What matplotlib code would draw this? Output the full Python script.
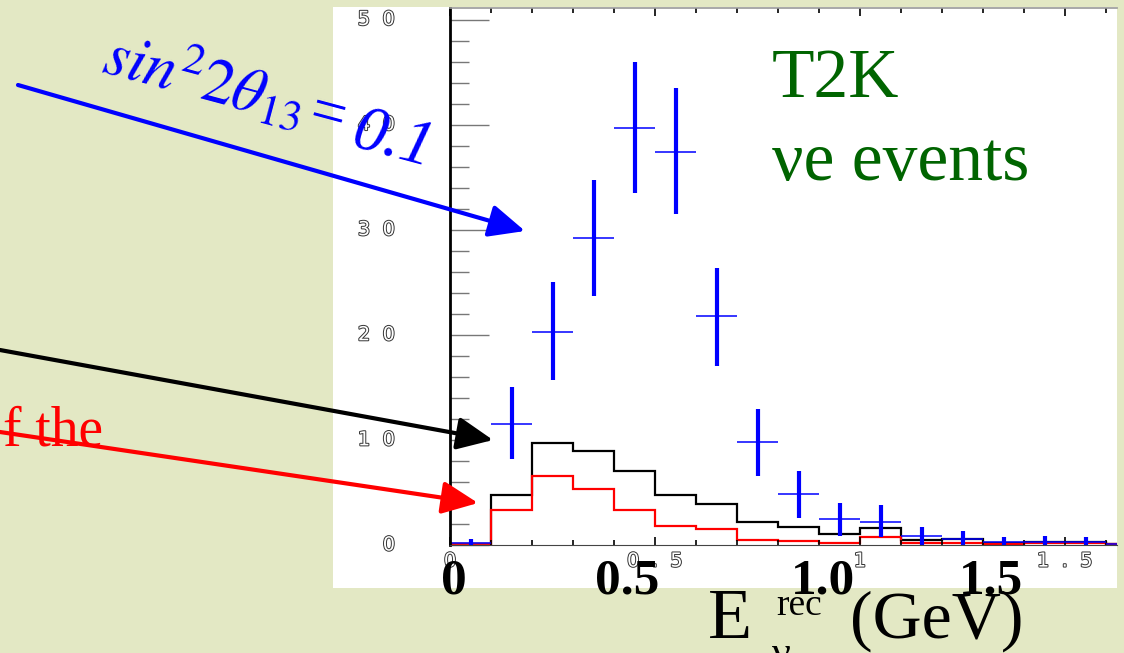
import matplotlib
matplotlib.use("Agg")
import matplotlib.pyplot as plt
import matplotlib.patheffects as pe
from matplotlib.patches import Rectangle, FancyArrowPatch
from matplotlib.ticker import MultipleLocator
import numpy as np

# reconstructed neutrino energy bins (GeV)
bin_edges = [0.0, 0.1, 0.2, 0.3, 0.4, 0.5, 0.6, 0.7, 0.8, 0.9, 1.0,
             1.1, 1.2, 1.3, 1.4, 1.5, 1.6, 1.7]
bin_centers = [0.05, 0.15, 0.25, 0.35, 0.45, 0.55, 0.65, 0.75, 0.85,
               0.95, 1.05, 1.15, 1.25, 1.35, 1.45, 1.55, 1.65]

# background histograms
black_hist = [0.05, 4.8, 9.7, 8.9, 7.0, 4.8, 3.9, 2.2, 1.7, 1.0, 1.6,
              0.5, 0.6, 0.2, 0.25, 0.25, 0.05]
red_hist = [0.05, 3.3, 6.6, 5.3, 3.3, 1.8, 1.5, 0.5, 0.35, 0.15, 0.8,
            0.2, 0.15, 0.1, 0.15, 0.2, 0.05]

# signal points, sin^2 2theta13 = 0.1
blue_val = [0.15, 11.5, 20.3, 29.2, 39.7, 37.4, 21.8, 9.8, 4.9, 2.5, 2.2,
            0.9, 0.6, 0.25, 0.3, 0.25, 0.1]
blue_lo = [0.0, 8.2, 15.7, 23.7, 33.5, 31.5, 17.0, 6.6, 2.6, 0.9, 0.8,
           0.0, 0.0, 0.0, 0.0, 0.0, 0.0]
blue_hi = [0.55, 15.0, 25.0, 34.7, 46.0, 43.5, 26.4, 12.9, 7.0, 4.0, 3.8,
           1.7, 1.3, 0.8, 0.9, 0.8, 0.5]

y_labels = ["0", "1  0", "2  0", "3  0", "4  0", "5  0"]
y_label_pos = [0, 10, 20, 30, 40, 50]
x_labels = ["0", "0  .  5", "1", "1  .  5"]
x_label_pos = [0.0, 0.5, 1.0, 1.5]
big_x_labels = ["0", "0.5", "1.0", "1.5"]

W, H = 1124, 653
BG = "#e3e8c4"
BLUE = "#0000ff"
RED = "#ff0000"
GREEN = "#006400"
SERIF = "Liberation Serif"


def fx(x):
    return x / W


def fy(y):
    return 1 - y / H


plt.rcParams["mathtext.fontset"] = "stix"

fig = plt.figure(figsize=(W / 100, H / 100), dpi=100)
fig.patch.set_facecolor(BG)

# white panel behind the plot
fig.add_artist(Rectangle((fx(333), fy(588)), 784 / W, 581 / H,
                         transform=fig.transFigure, facecolor="white",
                         edgecolor="none", zorder=-1))

ax = fig.add_axes([fx(450), fy(545), (1117 - 450) / W, (545 - 8) / H])
ax.set_facecolor("white")

ax.stairs(black_hist, bin_edges, color="black", lw=1.6, baseline=0)
ax.stairs(red_hist, bin_edges, color=RED, lw=1.6, baseline=0)

centers = np.array(bin_centers)
ax.vlines(centers, blue_lo, blue_hi, color=BLUE, lw=3)
ax.hlines(blue_val, centers - 0.05, centers + 0.05, color=BLUE, lw=1.1)

ax.set_xlim(0, (1117 - 450) / 410)
ax.set_ylim(0, (545 - 8) / 10.51)

ax.spines["right"].set_visible(False)
ax.spines["left"].set_linewidth(2)
ax.spines["left"].set_color("black")
ax.spines["top"].set_color("#999999")
ax.spines["top"].set_linewidth(1.2)
ax.spines["bottom"].set_color("#444444")

ax.yaxis.set_major_locator(MultipleLocator(10))
ax.yaxis.set_minor_locator(MultipleLocator(2))
ax.xaxis.set_major_locator(MultipleLocator(0.5))
ax.xaxis.set_minor_locator(MultipleLocator(0.1))
ax.tick_params(axis="y", which="major", direction="in", length=28,
               width=1, color="#777777", labelleft=False)
ax.tick_params(axis="y", which="minor", direction="in", length=14,
               width=1, color="#777777")
ax.tick_params(axis="x", which="major", direction="in", length=6,
               width=1.2, color="black", top=True, labelbottom=False)
ax.tick_params(axis="x", which="minor", direction="in", length=3.5,
               width=1.2, color="black", top=True)

hollow = [pe.withStroke(linewidth=1.4, foreground="#333333")]
for lab, v in zip(y_labels, y_label_pos):
    ax.text(-0.0825, v, lab, transform=ax.get_yaxis_transform(),
            ha="right", va="center", fontsize=14, color="white",
            family="DejaVu Sans", path_effects=hollow, clip_on=False)
for lab, v in zip(x_labels, x_label_pos):
    ax.text(v, -0.03, lab, transform=ax.get_xaxis_transform(),
            ha="center", va="center", fontsize=14, color="white",
            family="DejaVu Sans", path_effects=hollow, clip_on=False)

# bold labels pasted on the slide
for lab, x in zip(big_x_labels, [454, 627, 823, 991]):
    fig.text(fx(x), fy(593), lab, ha="center", va="baseline", fontsize=37,
             fontweight="bold", family=SERIF, color="black")

# x axis title
fig.text(fx(708), fy(638), "E", ha="left", va="baseline", fontsize=52,
         family=SERIF)
fig.text(fx(772), fy(665), "ν", ha="left", va="baseline", fontsize=30,
         family=SERIF)
fig.text(fx(776), fy(615), "rec", ha="left", va="baseline", fontsize=27,
         family=SERIF)
fig.text(fx(850), fy(638), "(GeV)", ha="left", va="baseline", fontsize=49,
         family=SERIF)

# labels in the panel
fig.text(fx(772), fy(97), "T2K", ha="left", va="baseline", fontsize=50,
         family=SERIF, color=GREEN)
fig.text(fx(772), fy(180), "νe events", ha="left", va="baseline",
         fontsize=50, family=SERIF, color=GREEN)

# annotation text
fig.text(fx(100), fy(72), r"$sin^{2}2\theta_{\mathit{13}}$=", ha="left",
         va="baseline", fontsize=45, family=SERIF, style="italic",
         color=BLUE, rotation=-15, rotation_mode="anchor")
fig.text(fx(350), fy(146), "0.1", ha="left", va="baseline", fontsize=47,
         family=SERIF, style="italic", color=BLUE, rotation=-15,
         rotation_mode="anchor")
fig.text(fx(103), fy(445), "f the", ha="right", va="baseline", fontsize=40,
         family=SERIF, color=RED)

# arrows
for (x0, y0), (x1, y1), c in [((18, 85), (525, 231), BLUE),
                              ((0, 350), (493, 440), "black"),
                              ((0, 432), (478, 503), RED)]:
    fig.add_artist(FancyArrowPatch((fx(x0), fy(y0)), (fx(x1), fy(y1)),
                                   transform=fig.transFigure,
                                   arrowstyle="-|>,head_length=22,head_width=10",
                                   color=c, lw=3, shrinkA=0, shrinkB=0,
                                   zorder=5))

fig.savefig("out.png", dpi=100, facecolor=BG)
